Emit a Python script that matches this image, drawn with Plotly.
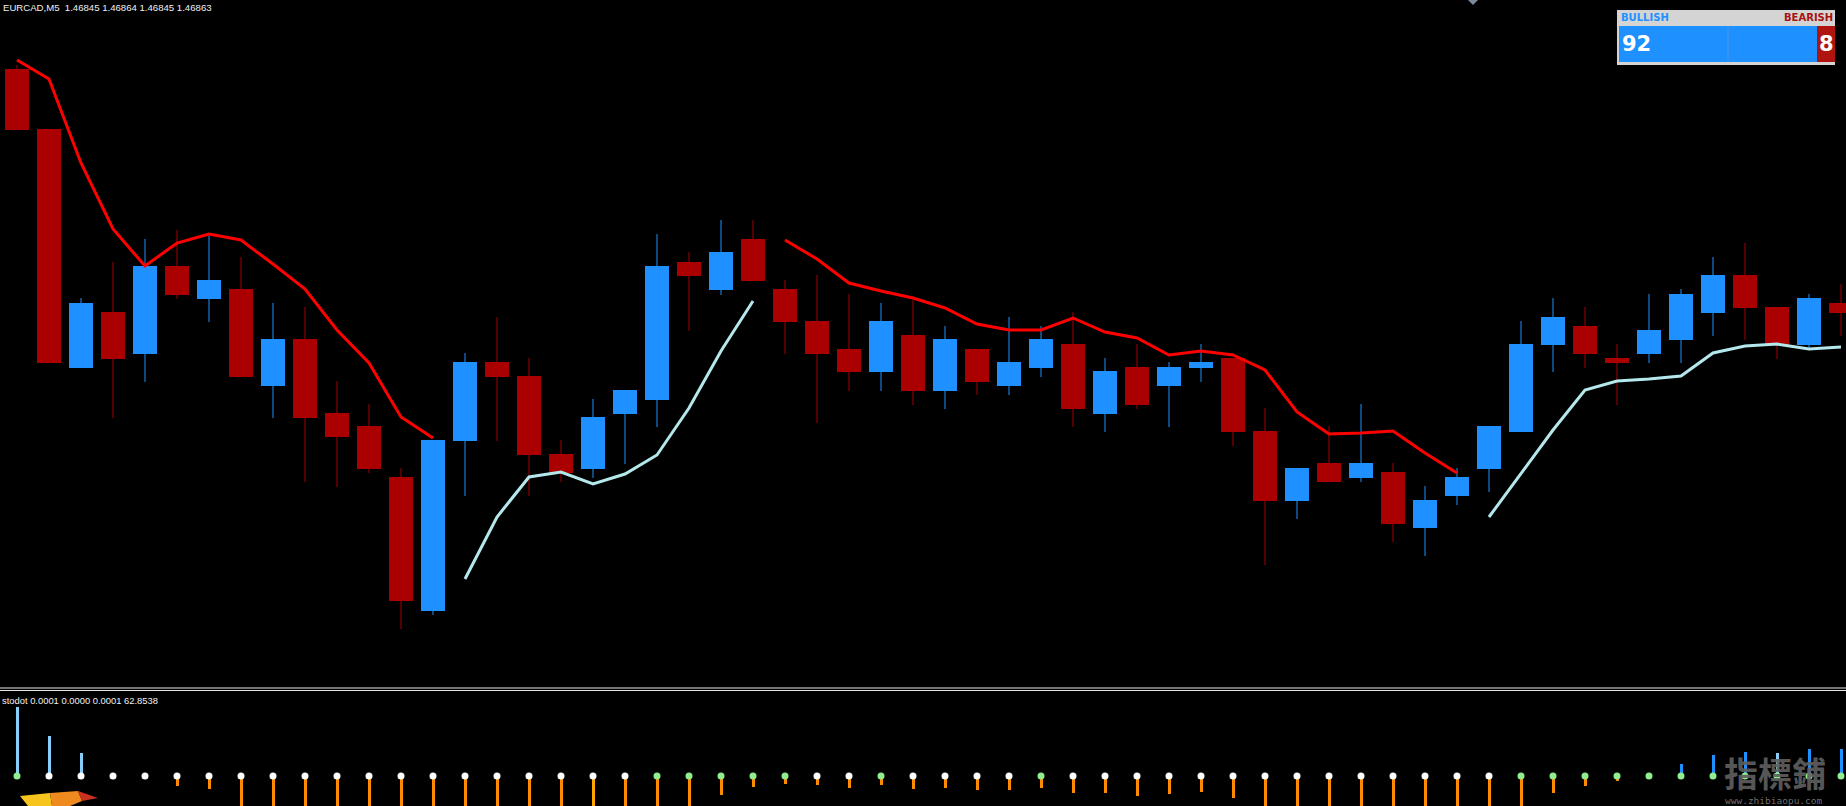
import plotly.graph_objects as go

W, H = 1846, 806

# ---------------- data ----------------
bars = list(range(58))

open_ = [1.47131, 1.47071, 1.46832, 1.46888, 1.46846, 1.46934, 1.46901, 1.46911, 1.46814, 1.46861,
         1.46787, 1.46774, 1.46723, 1.46589, 1.46759, 1.46838, 1.46824, 1.46746, 1.46731, 1.46786,
         1.46800, 1.46938, 1.46910, 1.46961, 1.46911, 1.46879, 1.46851, 1.46828, 1.46865, 1.46809,
         1.46851, 1.46814, 1.46832, 1.46856, 1.46786, 1.46833, 1.46814, 1.46832, 1.46842, 1.46769,
         1.46699, 1.46737, 1.46722, 1.46728, 1.46672, 1.46704, 1.46731, 1.46768, 1.46855, 1.46874,
         1.46842, 1.46846, 1.46860, 1.46887, 1.46925, 1.46893, 1.46855, 1.46897]

high = [1.47135, 1.47071, 1.46902, 1.46938, 1.46961, 1.46970, 1.46964, 1.46943, 1.46897, 1.46893,
        1.46819, 1.46796, 1.46732, 1.46760, 1.46847, 1.46883, 1.46842, 1.46760, 1.46801, 1.46810,
        1.46966, 1.46948, 1.46980, 1.46980, 1.46920, 1.46925, 1.46906, 1.46897, 1.46900, 1.46874,
        1.46851, 1.46883, 1.46874, 1.46888, 1.46842, 1.46856, 1.46838, 1.46856, 1.46842, 1.46792,
        1.46732, 1.46774, 1.46796, 1.46737, 1.46714, 1.46732, 1.46774, 1.46879, 1.46902, 1.46893,
        1.46856, 1.46906, 1.46911, 1.46943, 1.46957, 1.46893, 1.46906, 1.46916]

low = [1.47070, 1.46837, 1.46832, 1.46782, 1.46818, 1.46901, 1.46878, 1.46823, 1.46782, 1.46718,
       1.46713, 1.46727, 1.46571, 1.46585, 1.46704, 1.46759, 1.46704, 1.46718, 1.46722, 1.46736,
       1.46773, 1.46869, 1.46905, 1.46919, 1.46846, 1.46777, 1.46809, 1.46809, 1.46795, 1.46791,
       1.46805, 1.46805, 1.46823, 1.46773, 1.46768, 1.46791, 1.46773, 1.46818, 1.46754, 1.46635,
       1.46681, 1.46718, 1.46718, 1.46658, 1.46644, 1.46695, 1.46708, 1.46768, 1.46828, 1.46832,
       1.46795, 1.46837, 1.46837, 1.46864, 1.46860, 1.46841, 1.46851, 1.46864]

close = [1.47070, 1.46837, 1.46897, 1.46841, 1.46934, 1.46905, 1.46920, 1.46823, 1.46861, 1.46782,
         1.46763, 1.46731, 1.46599, 1.46760, 1.46838, 1.46823, 1.46745, 1.46727, 1.46783, 1.46810,
         1.46934, 1.46924, 1.46948, 1.46919, 1.46878, 1.46846, 1.46828, 1.46879, 1.46809, 1.46861,
         1.46818, 1.46838, 1.46861, 1.46791, 1.46829, 1.46795, 1.46833, 1.46838, 1.46768, 1.46699,
         1.46732, 1.46718, 1.46737, 1.46676, 1.46700, 1.46723, 1.46774, 1.46856, 1.46883, 1.46846,
         1.46837, 1.46870, 1.46906, 1.46925, 1.46892, 1.46855, 1.46902, 1.46887]

N = None
down_line = [1.47140, 1.47121, 1.47037, 1.46971, 1.46934, 1.46957, 1.46966, 1.46960, 1.46936, 1.46911,
             1.46870, 1.46837, 1.46783, 1.46762, N, N, N, N, N, N,
             N, N, N, N, 1.46960, 1.46941, 1.46917, 1.46909, 1.46902, 1.46892,
             1.46876, 1.46870, 1.46870, 1.46882, 1.46868, 1.46862, 1.46845, 1.46849, 1.46845, 1.46830,
             1.46788, 1.46766, 1.46767, 1.46769, 1.46747, 1.46727, N, N, N, N,
             N, N, N, N, N, N, N, N]

up_line = [N, N, N, N, N, N, N, N, N, N,
           N, N, N, N, 1.46621, 1.46683, 1.46723, 1.46728, 1.46716, 1.46726,
           1.46745, 1.46792, 1.46849, 1.46899, N, N, N, N, N, N,
           N, N, N, N, N, N, N, N, N, N,
           N, N, N, N, N, N, 1.46683, 1.46727, 1.46770, 1.46810,
           1.46819, 1.46821, 1.46824, 1.46847, 1.46854, 1.46856, 1.46851, 1.46853]

stodot = [0.99, 0.57, 0.33, 0, 0, -0.14, -0.19, -0.5, -0.7, -0.9,
          -1.0, -1.1, -1.3, -1.2, -1.0, -0.9, -0.8, -0.8, -0.7, -0.7,
          -0.6, -0.5, -0.27, -0.16, -0.11, -0.13, -0.17, -0.13, -0.19, -0.17,
          -0.20, -0.20, -0.17, -0.24, -0.24, -0.29, -0.26, -0.23, -0.31, -0.6,
          -0.8, -0.9, -0.9, -1.0, -1.0, -0.9, -0.7, -0.5, -0.24, -0.14,
          -0.07, 0, 0.17, 0.30, 0.34, 0.33, 0.39, 0.39]

# g = green dot, w = white dot
dot_state = list("gwwwwwwwwwwwwwwwwwwwgggggwwgwwwwgwwwwwwwwwwwwwwggggggggggg")
# l = light stem, d = deep stem
stem_shade = list("llldddddddddddddddlddddddddddddddddddddddddddddddddddddldd")

title_text = "EURCAD,M5  1.46845 1.46864 1.46845 1.46863"
ind_text = "stodot 0.0001 0.0000 0.0001 62.8538"
bull_pct, bear_pct = 92, 8

# ---------------- styles ----------------
BULL = "#1E90FF"
BEAR = "#AA0000"
FONT = "Liberation Sans"


def px(x):
    return x / W


def py(y):
    return 1 - y / H


fig = go.Figure()

# wicks
wxb, wyb, wxr, wyr = [], [], [], []
for i in bars:
    if close[i] >= open_[i]:
        wxb += [i, i, None]
        wyb += [low[i], high[i], None]
    else:
        wxr += [i, i, None]
        wyr += [low[i], high[i], None]
fig.add_trace(go.Scatter(x=wxb, y=wyb, mode="lines", line=dict(color=BULL, width=1),
                         hoverinfo="skip", showlegend=False))
fig.add_trace(go.Scatter(x=wxr, y=wyr, mode="lines", line=dict(color=BEAR, width=1),
                         hoverinfo="skip", showlegend=False))

# bodies
base = [min(o, c) for o, c in zip(open_, close)]
height = [abs(c - o) for o, c in zip(open_, close)]
colors = [BULL if c >= o else BEAR for o, c in zip(open_, close)]
fig.add_trace(go.Bar(x=bars, y=height, base=base, width=0.78,
                     marker=dict(color=colors, line=dict(width=0)),
                     hoverinfo="skip", showlegend=False))

# trend lines
fig.add_trace(go.Scatter(x=bars, y=down_line, mode="lines", connectgaps=False,
                         line=dict(color="#FF0000", width=3), hoverinfo="skip", showlegend=False))
fig.add_trace(go.Scatter(x=bars, y=up_line, mode="lines", connectgaps=False,
                         line=dict(color="#B4E8EC", width=3), hoverinfo="skip", showlegend=False))

# indicator stems
stem_colors = []
for v, s in zip(stodot, stem_shade):
    if v >= 0:
        stem_colors.append("#87CEFA" if s == "l" else "#1E90FF")
    else:
        stem_colors.append("#FFA500" if s == "l" else "#FF8C00")
fig.add_trace(go.Bar(x=bars, y=stodot, base=0, width=0.094, xaxis="x2", yaxis="y2",
                     marker=dict(color=stem_colors, line=dict(width=0)),
                     hoverinfo="skip", showlegend=False))
fig.add_trace(go.Scatter(x=bars, y=[0] * len(bars), mode="markers", xaxis="x2", yaxis="y2",
                         marker=dict(size=7, color=["#90EE90" if d == "g" else "#FFFFFF" for d in dot_state],
                                     line=dict(width=0)),
                         hoverinfo="skip", showlegend=False))

xr = [-17 / 32, (W - 17) / 32]
ax_common = dict(visible=False, showgrid=False, zeroline=False, fixedrange=True)

shapes = [
    # subwindow separator
    dict(type="line", xref="paper", yref="paper", x0=0, x1=1, y0=py(688), y1=py(688),
         line=dict(color="#E8E8E8", width=1)),
    dict(type="line", xref="paper", yref="paper", x0=0, x1=1, y0=py(690.5), y1=py(690.5),
         line=dict(color="#E8E8E8", width=1)),
    # dashboard panel
    dict(type="rect", xref="paper", yref="paper", x0=px(1617), x1=px(1835), y0=py(65), y1=py(10),
         fillcolor="#D4D4D4", line=dict(width=0), layer="above"),
    dict(type="rect", xref="paper", yref="paper", x0=px(1619), x1=px(1817), y0=py(62), y1=py(26),
         fillcolor="#1E90FF", line=dict(width=0), layer="above"),
    dict(type="rect", xref="paper", yref="paper", x0=px(1817), x1=px(1835), y0=py(62), y1=py(26),
         fillcolor="#B0140E", line=dict(width=0), layer="above"),
    dict(type="line", xref="paper", yref="paper", x0=px(1728), x1=px(1728), y0=py(62), y1=py(26),
         line=dict(color="rgba(160,170,190,0.35)", width=1), layer="above"),
    # small marker at top
    dict(type="path", xref="paper", yref="paper",
         path=f"M {px(1468)} {py(0)} L {px(1478)} {py(0)} L {px(1473)} {py(5)} Z",
         fillcolor="#7A8A9A", line=dict(width=0), layer="above"),
    # bottom-left logo swoosh
    dict(type="path", xref="paper", yref="paper",
         path=f"M {px(20)} {py(796)} L {px(50)} {py(793)} L {px(52)} {py(806)} L {px(28)} {py(806)} Z",
         fillcolor="#F6C41C", line=dict(width=0), layer="above"),
    dict(type="path", xref="paper", yref="paper",
         path=f"M {px(50)} {py(793)} L {px(78)} {py(791)} L {px(82)} {py(801)} L {px(70)} {py(806)} L {px(52)} {py(806)} Z",
         fillcolor="#EE8A1E", line=dict(width=0), layer="above"),
    dict(type="path", xref="paper", yref="paper",
         path=f"M {px(78)} {py(791)} L {px(98)} {py(798)} L {px(82)} {py(801)} Z",
         fillcolor="#C8321E", line=dict(width=0), layer="above"),
]

annotations = [
    dict(text=title_text, xref="paper", yref="paper", x=px(1), y=py(7), xanchor="left",
         yanchor="middle", showarrow=False, font=dict(family=FONT, size=9.6, color="#F0F0F0")),
    dict(text=ind_text, xref="paper", yref="paper", x=px(0), y=py(700), xanchor="left",
         yanchor="middle", showarrow=False, font=dict(family=FONT, size=9.4, color="#F0F0F0")),
    dict(text="<b>BULLISH</b>", xref="paper", yref="paper", x=px(1619), y=py(18), xanchor="left",
         yanchor="middle", showarrow=False, font=dict(family="DejaVu Sans", size=10, color="#1E90FF")),
    dict(text="<b>BEARISH</b>", xref="paper", yref="paper", x=px(1835), y=py(18), xanchor="right",
         yanchor="middle", showarrow=False, font=dict(family="DejaVu Sans", size=10, color="#AA1111")),
    dict(text=f"<b>{bull_pct}</b>", xref="paper", yref="paper", x=px(1620), y=py(44), xanchor="left",
         yanchor="middle", showarrow=False, font=dict(family="DejaVu Sans", size=21, color="#FFFFFF")),
    dict(text=f"<b>{bear_pct}</b>", xref="paper", yref="paper", x=px(1836), y=py(44), xanchor="right",
         yanchor="middle", showarrow=False, font=dict(family="DejaVu Sans", size=21, color="#FFFFFF")),
    dict(text="<b>指標鋪</b>", xref="paper", yref="paper", x=px(1775), y=py(772), xanchor="center",
         yanchor="middle", showarrow=False,
         font=dict(family="Noto Sans CJK TC", size=34, color="rgba(95,95,95,0.92)")),
    dict(text="www.zhibiaopu.com", xref="paper", yref="paper", x=px(1774), y=py(800.5), xanchor="center",
         yanchor="middle", showarrow=False,
         font=dict(family="DejaVu Sans Mono", size=9.5, color="rgba(120,120,120,0.95)")),
]

fig.update_layout(
    width=W, height=H,
    margin=dict(l=0, r=0, t=0, b=0),
    paper_bgcolor="#000000", plot_bgcolor="#000000",
    barmode="overlay", bargap=0, showlegend=False, hovermode=False,
    xaxis=dict(range=xr, domain=[0, 1], anchor="y", **ax_common),
    yaxis=dict(range=[1.46514, 1.47200], domain=[py(686), 1], anchor="x", **ax_common),
    xaxis2=dict(range=xr, domain=[0, 1], anchor="y2", **ax_common),
    yaxis2=dict(range=[-30 / 70, 84 / 70], domain=[0, py(692)], anchor="x2", **ax_common),
    shapes=shapes,
    annotations=annotations,
)

fig.write_html(
    "out.html",
    config={"displayModeBar": False},
    post_script="document.body.style.margin='0';document.body.style.padding='0';"
                "document.body.style.overflow='hidden';document.body.style.background='#000';"
                "document.documentElement.style.background='#000';",
)
